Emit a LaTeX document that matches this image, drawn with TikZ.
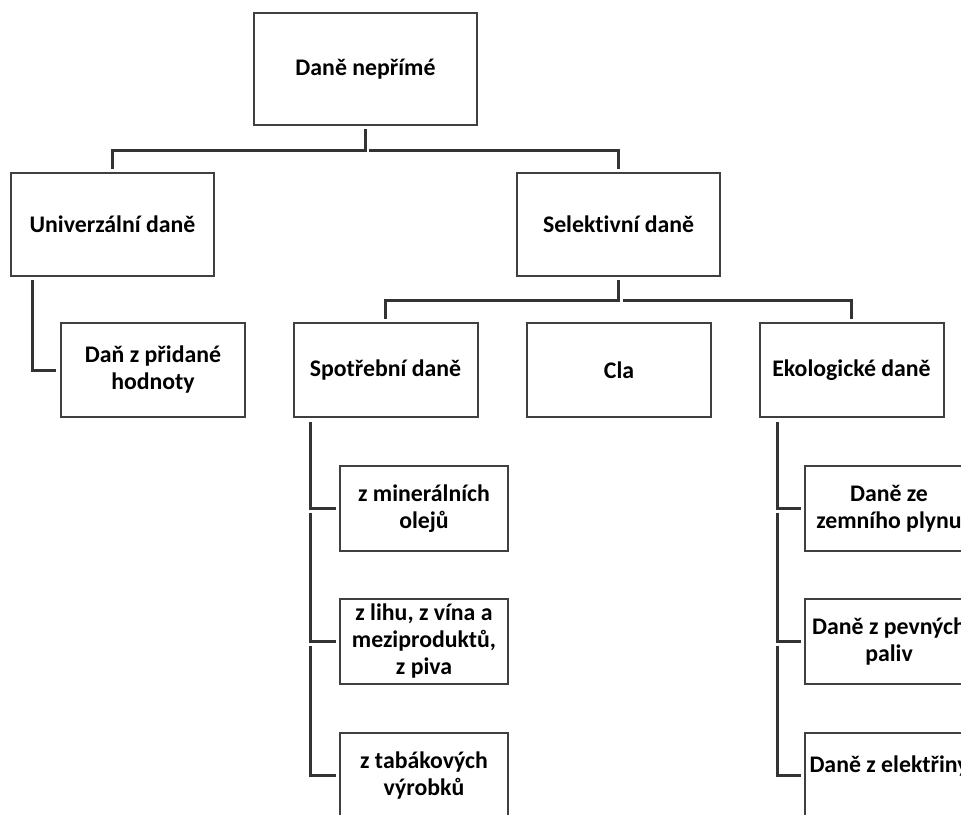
\documentclass[tikz,border=0pt]{standalone}
\usepackage{fontspec}
\setmainfont{Carlito}[Ligatures=NoCommon]
\usetikzlibrary{calc}
\definecolor{boxgray}{HTML}{404040}
\definecolor{linegray}{HTML}{333333}
\tikzset{
  box/.style={draw=boxgray,line width=2pt,fill=white,align=center,inner sep=0pt,
    font=\fontsize{23.8}{27}\selectfont\bfseries},
  topbox/.style={box,minimum width=223pt,minimum height=112pt},
  midbox/.style={box,minimum width=203pt,minimum height=103pt},
  subbox/.style={box,minimum width=184pt,minimum height=94pt},
  leafbox/.style={box,minimum width=168pt,minimum height=85pt},
  link/.style={draw=linegray,line width=3pt}
}
\begin{document}
\begin{tikzpicture}[x=1pt,y=-1pt]
\useasboundingbox (0,0) rectangle (961,814);
\clip (0,0) rectangle (961,814);
% Root and first level
\node[topbox] (root) at (365.5,69) {Daně nepřímé};
\node[midbox] (univ) at (112.5,224.5) {Univerzální daně};
\node[midbox] (sel) at (618.5,224.5) {Selektivní daně};
% Second level
\node[subbox] (dph) at (153,370) {Daň z přidané\\hodnoty};
\node[subbox] (spot) at (385.5,370) {Spotřební daně};
\node[subbox] (cla) at (619,370) {Cla};
\node[subbox] (eko) at (851.5,370) {Ekologické daně};
% Leaves under Spotřební daně
\node[leafbox] (oleje) at (424,508.5) {z minerálních\\olejů};
\node[leafbox] (lih) at (424,641.5) {z lihu, z vína a\\meziproduktů,\\z piva};
\node[leafbox] (tabak) at (424,775.5) {z tabákových\\výrobků};
% Leaves under Ekologické daně
\node[leafbox] (plyn) at (889,508.5) {Daně ze\\zemního plynu};
\node[leafbox] (paliva) at (889,641.5) {Daně z pevných\\paliv};
\node[leafbox,text height=16pt,text depth=23pt] (elektr) at (889,775.5) {Daně z elektřiny};
% Root to first level
\draw[link] ($(root.south)+(0,3)$) -- ++(0,21) -| ($(univ.north)+(0,-3)$);
\draw[link] ($(root.south)+(3.5,24)$) -| ($(sel.north)+(0,-3)$);
% First level to second level
\draw[link] ($(univ.south west)+(22,3)$) |- ($(dph.west)+(-4,0)$);
\draw[link] ($(sel.south)+(0,3)$) -- ++(0,20) -| ($(spot.north)+(0,-3)$);
\draw[link] ($(sel.south)+(4,23)$) -| ($(eko.north)+(0,-3)$);
% Second level to leaves
\draw[link] ($(spot.south west)+(18,4)$) |- ($(oleje.west)+(-3,0)$);
\draw[link] ($(spot.south west |- oleje.west)+(18,4)$) |- ($(lih.west)+(-3,0)$);
\draw[link] ($(spot.south west |- lih.west)+(18,4)$) |- ($(tabak.west)+(-3,0)$);
\draw[link] ($(eko.south west)+(19,4)$) |- ($(plyn.west)+(-3,0)$);
\draw[link] ($(eko.south west |- plyn.west)+(19,4)$) |- ($(paliva.west)+(-3,0)$);
\draw[link] ($(eko.south west |- paliva.west)+(19,4)$) |- ($(elektr.west)+(-3,0)$);
\end{tikzpicture}
\end{document}
